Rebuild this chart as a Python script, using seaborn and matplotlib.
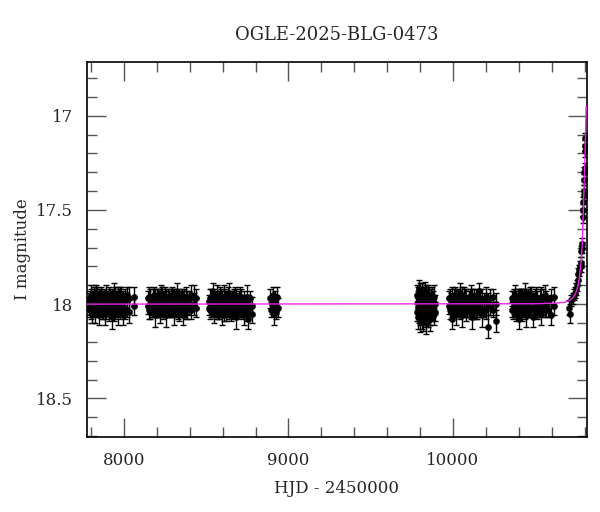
import numpy as np
import pandas as pd
import matplotlib
matplotlib.use("Agg")
import matplotlib.pyplot as plt
from matplotlib.ticker import MultipleLocator
import seaborn as sns

# --- photometry (HJD - 2450000, I mag, error) ---
# two exposures per epoch in the dense seasons (m and m2)
s1_t = [7785, 7791, 7797, 7802, 7808, 7813, 7820, 7826, 7831, 7837,
        7843, 7849, 7854, 7861, 7867, 7872, 7879, 7885, 7890, 7896,
        7903, 7909, 7914, 7921, 7927, 7932, 7939, 7945, 7951, 7958,
        7964, 7970, 7977, 7984, 7991, 7999, 8008, 8018, 8031, 8060]
s1_m = [17.98, 18.03, 17.95, 18.01, 18.05, 17.97, 18.00, 18.04, 17.94, 18.02,
        17.99, 18.06, 17.96, 18.01, 18.03, 17.97, 18.00, 18.05, 17.95, 18.02,
        17.98, 18.04, 17.96, 18.01, 18.07, 17.99, 17.94, 18.03, 18.00, 17.97,
        18.05, 18.02, 17.96, 18.00, 18.06, 17.98, 18.03, 17.95, 18.04, 18.01]
s1_m2 = [18.02, 17.97, 18.03, 17.96, 17.99, 18.03, 17.95, 17.98, 18.02, 17.96,
         18.03, 17.97, 18.02, 17.95, 17.98, 18.04, 17.96, 17.99, 18.03, 17.97,
         18.02, 17.96, 18.03, 17.97, 17.98, 18.02, 18.04, 17.96, 18.03, 18.02,
         17.97, 17.96, 18.03, 17.95, 17.98, 18.02, 17.97, 18.03, 17.97, 17.96]
s1_e = [0.04, 0.04, 0.05, 0.04, 0.05, 0.04, 0.04, 0.06, 0.04, 0.05,
        0.04, 0.05, 0.04, 0.04, 0.05, 0.04, 0.04, 0.06, 0.05, 0.04,
        0.04, 0.05, 0.04, 0.04, 0.06, 0.04, 0.05, 0.05, 0.04, 0.04,
        0.06, 0.04, 0.05, 0.04, 0.05, 0.04, 0.05, 0.04, 0.06, 0.05]

s2_t = [8148, 8155, 8161, 8168, 8174, 8181, 8187, 8194, 8200, 8206,
        8213, 8219, 8226, 8232, 8239, 8245, 8252, 8258, 8265, 8271,
        8278, 8284, 8291, 8297, 8304, 8310, 8317, 8323, 8330, 8337,
        8344, 8351, 8359, 8367, 8376, 8385, 8396, 8408, 8423, 8440]
s2_m = [18.01, 17.96, 18.04, 17.99, 18.02, 17.95, 18.06, 18.00, 17.97, 18.03,
        17.98, 18.05, 17.94, 18.01, 18.04, 17.97, 18.00, 18.06, 17.96, 18.02,
        17.99, 18.03, 17.95, 18.01, 18.05, 17.98, 18.02, 17.94, 18.00, 18.04,
        17.97, 18.01, 18.06, 17.96, 18.03, 17.99, 18.02, 17.95, 18.00, 17.97]
s2_m2 = [17.97, 18.03, 17.96, 18.02, 17.97, 18.03, 17.98, 18.03, 18.02, 17.96,
         18.03, 17.97, 18.02, 17.96, 17.98, 18.03, 17.96, 17.98, 18.03, 17.97,
         18.02, 17.96, 18.03, 17.97, 17.98, 18.03, 17.96, 18.02, 18.04, 17.97,
         18.03, 17.96, 17.98, 18.03, 17.96, 18.02, 17.97, 18.03, 17.96, 18.02]
s2_e = [0.04, 0.05, 0.04, 0.04, 0.05, 0.04, 0.06, 0.04, 0.05, 0.04,
        0.04, 0.05, 0.04, 0.05, 0.04, 0.04, 0.05, 0.06, 0.04, 0.04,
        0.05, 0.04, 0.04, 0.05, 0.06, 0.04, 0.04, 0.05, 0.04, 0.05,
        0.04, 0.04, 0.05, 0.04, 0.05, 0.06, 0.04, 0.05, 0.06, 0.05]

s3_t = [8518, 8524, 8530, 8536, 8541, 8547, 8553, 8559, 8564, 8570,
        8576, 8582, 8588, 8593, 8599, 8605, 8611, 8617, 8622, 8628,
        8634, 8640, 8646, 8652, 8658, 8664, 8670, 8677, 8683, 8690,
        8697, 8704, 8711, 8719, 8727, 8736, 8745, 8755, 8766, 8780]
s3_m = [17.99, 18.03, 17.96, 18.01, 17.94, 18.05, 18.00, 17.97, 18.02, 18.04,
        17.98, 17.95, 18.01, 18.06, 17.99, 18.03, 17.96, 18.00, 18.04, 17.97,
        18.02, 17.95, 18.01, 18.05, 17.98, 18.03, 17.96, 18.00, 18.07, 17.98,
        18.02, 17.96, 18.04, 18.00, 18.06, 17.99, 18.03, 18.08, 18.01, 18.05]
s3_m2 = [18.02, 17.97, 18.03, 17.96, 18.02, 17.97, 18.03, 18.02, 17.96, 17.98,
         18.03, 18.02, 17.96, 17.98, 18.03, 17.96, 18.03, 17.97, 17.98, 18.03,
         17.96, 18.02, 17.97, 17.98, 18.03, 17.97, 18.02, 17.96, 17.98, 18.03,
         17.97, 18.02, 17.96, 18.03, 17.98, 18.02, 17.96, 18.00, 17.97, 18.01]
s3_e = [0.04, 0.05, 0.04, 0.04, 0.05, 0.05, 0.04, 0.04, 0.06, 0.04,
        0.05, 0.04, 0.04, 0.05, 0.04, 0.06, 0.04, 0.04, 0.05, 0.04,
        0.05, 0.06, 0.04, 0.04, 0.05, 0.04, 0.04, 0.05, 0.06, 0.04,
        0.04, 0.05, 0.04, 0.04, 0.05, 0.04, 0.06, 0.05, 0.04, 0.05]

s4_t = [8890, 8895, 8900, 8905, 8910, 8915, 8920, 8926, 8932, 8938]
s4_m = [17.97, 18.03, 18.00, 17.95, 18.05, 18.01, 17.98, 18.04, 17.96, 18.02]
s4_e = [0.05, 0.04, 0.05, 0.04, 0.06, 0.04, 0.05, 0.04, 0.05, 0.05]

s5_t = [9783, 9786, 9789, 9792, 9795, 9798, 9801, 9804, 9807, 9810,
        9813, 9816, 9819, 9822, 9825, 9828, 9831, 9835, 9838, 9842,
        9846, 9850, 9854, 9858, 9862, 9866, 9871, 9876, 9882, 9888]
s5_m = [17.95, 18.02, 18.07, 17.92, 18.04, 17.99, 18.09, 17.96, 18.03, 18.06,
        17.94, 18.01, 18.08, 17.97, 18.05, 18.00, 17.93, 18.10, 18.02, 17.98,
        18.06, 17.95, 18.03, 18.08, 17.99, 18.04, 17.96, 18.02, 18.05, 18.00]
s5_m2 = [18.04, 17.96, 17.99, 18.05, 17.97, 18.06, 17.95, 18.03, 17.98, 17.96,
         18.05, 17.97, 17.98, 18.04, 17.96, 18.07, 18.02, 17.97, 17.95, 18.05,
         17.98, 18.04, 17.96, 18.00, 18.06, 17.97, 18.03, 17.98, 17.96, 18.04]
s5_e = [0.05, 0.05, 0.06, 0.05, 0.05, 0.05, 0.06, 0.05, 0.05, 0.07,
        0.05, 0.05, 0.06, 0.05, 0.05, 0.05, 0.05, 0.06, 0.05, 0.05,
        0.06, 0.05, 0.05, 0.06, 0.05, 0.05, 0.05, 0.05, 0.06, 0.05]

s6_t = [9976, 9982, 9988, 9994, 9999, 10005, 10011, 10017, 10023, 10030,
        10036, 10042, 10049, 10055, 10062, 10068, 10075, 10082, 10088, 10095,
        10102, 10109, 10116, 10124, 10131, 10139, 10147, 10156, 10165, 10175,
        10186, 10198, 10212, 10226, 10245, 10262]
s6_m = [18.01, 17.97, 18.04, 18.08, 17.99, 18.02, 17.95, 18.05, 18.00, 17.97,
        18.03, 17.94, 18.01, 18.06, 17.98, 18.02, 17.96, 18.04, 18.00, 17.98,
        18.03, 17.95, 18.07, 18.00, 17.97, 18.04, 17.99, 17.93, 18.02, 18.06,
        17.98, 18.03, 18.12, 18.01, 17.96, 18.09]
s6_m2 = [17.97, 18.03, 17.98, 17.96, 18.03, 17.97, 18.02, 17.98, 18.03, 18.02,
         17.97, 18.03, 17.98, 17.97, 18.03, 17.96, 18.02, 17.97, 18.03, 18.02,
         17.96, 18.03, 17.98, 18.04, 18.02, 17.96, 18.03, 18.02, 17.97, 17.98,
         18.03, 17.96, 18.00, 17.97, 18.03, 18.00]
s6_e = [0.04, 0.05, 0.04, 0.05, 0.04, 0.05, 0.04, 0.06, 0.04, 0.05,
        0.04, 0.05, 0.04, 0.06, 0.04, 0.05, 0.04, 0.05, 0.04, 0.05,
        0.04, 0.05, 0.06, 0.04, 0.05, 0.04, 0.05, 0.04, 0.05, 0.06,
        0.04, 0.05, 0.06, 0.05, 0.04, 0.06]

s7_t = [10360, 10366, 10372, 10378, 10384, 10390, 10396, 10402, 10408, 10414,
        10420, 10426, 10432, 10438, 10444, 10451, 10457, 10464, 10470, 10477,
        10484, 10491, 10498, 10505, 10513, 10521, 10529, 10538, 10547, 10557,
        10568, 10580, 10595, 10615]
s7_m = [18.03, 17.98, 18.01, 17.95, 18.05, 18.00, 17.97, 18.08, 18.02, 17.96,
        18.04, 17.99, 18.01, 17.94, 18.06, 18.00, 17.97, 18.03, 17.95, 18.02,
        18.07, 17.98, 18.01, 17.96, 18.04, 18.00, 17.97, 18.05, 18.02, 17.95,
        18.03, 17.99, 18.06, 18.01]
s7_m2 = [17.97, 18.03, 17.96, 18.02, 17.97, 18.03, 18.02, 17.97, 17.96, 18.03,
         17.97, 18.02, 17.96, 18.03, 17.98, 18.03, 18.02, 17.97, 18.03, 17.96,
         17.98, 18.03, 17.96, 18.02, 17.97, 18.03, 18.02, 17.97, 17.96, 18.02,
         17.97, 18.03, 17.97, 17.96]
s7_e = [0.04, 0.05, 0.04, 0.05, 0.04, 0.04, 0.05, 0.05, 0.04, 0.04,
        0.05, 0.04, 0.04, 0.05, 0.06, 0.04, 0.05, 0.04, 0.04, 0.05,
        0.05, 0.04, 0.04, 0.05, 0.04, 0.04, 0.05, 0.06, 0.04, 0.05,
        0.04, 0.04, 0.05, 0.05]

rise_t = [10705, 10712, 10720, 10728, 10735, 10741, 10747, 10752, 10758, 10763,
          10768, 10771, 10776, 10777, 10780, 10782, 10783, 10791, 10792, 10793,
          10794, 10795, 10798, 10799, 10800, 10804, 10805, 10806]
rise_m = [18.02, 18.05, 17.98, 17.97, 17.95, 17.94, 17.92, 17.90, 17.87, 17.84,
          17.82, 17.80, 17.80, 17.78, 17.72, 17.70, 17.68, 17.54, 17.50, 17.46,
          17.42, 17.40, 17.34, 17.30, 17.28, 17.19, 17.16, 17.12]
rise_e = [0.04, 0.05, 0.03, 0.03, 0.03, 0.03, 0.03, 0.03, 0.03, 0.03,
          0.03, 0.03, 0.03, 0.03, 0.03, 0.03, 0.03, 0.03, 0.03, 0.03,
          0.03, 0.03, 0.03, 0.03, 0.03, 0.03, 0.03, 0.03]

# model light curve (sampled from the magenta line)
model_t = [7775, 10500, 10620, 10680, 10710, 10730, 10745, 10755, 10763, 10770,
           10776, 10781, 10786, 10790, 10794, 10798, 10802, 10806, 10810]
model_m = [18.0, 17.998, 17.995, 17.99, 17.98, 17.965, 17.945, 17.92, 17.89, 17.85,
           17.80, 17.76, 17.68, 17.58, 17.47, 17.36, 17.24, 17.10, 16.95]

obs = pd.DataFrame({
    "hjd": (s1_t + s1_t + s2_t + s2_t + s3_t + s3_t + s4_t + s5_t + s5_t
            + s6_t + s6_t + s7_t + s7_t + rise_t),
    "mag": (s1_m + s1_m2 + s2_m + s2_m2 + s3_m + s3_m2 + s4_m + s5_m + s5_m2
            + s6_m + s6_m2 + s7_m + s7_m2 + rise_m),
    "err": (s1_e + s1_e + s2_e + s2_e + s3_e + s3_e + s4_e + s5_e + s5_e
            + s6_e + s6_e + s7_e + s7_e + rise_e),
})
model = pd.DataFrame({"hjd": model_t, "mag": model_m})

sns.set_theme(style="ticks")
plt.rcParams["font.family"] = ["DejaVu Serif"]
plt.rcParams["mathtext.fontset"] = "dejavuserif"

fig = plt.figure(figsize=(6, 5.12), dpi=100)
ax = fig.add_axes([0.145, 0.1465, 0.8333, 0.7325])

ax.errorbar(obs["hjd"], obs["mag"], yerr=obs["err"], fmt="none",
            ecolor="black", elinewidth=1.0, capsize=2.5, capthick=1.0, zorder=2)
sns.scatterplot(data=obs, x="hjd", y="mag", ax=ax, color="black", s=20,
                edgecolor="black", linewidth=0.3, zorder=3, legend=False)
sns.lineplot(data=model, x="hjd", y="mag", ax=ax, color="#ee22ee", lw=1.0,
             sort=False, estimator=None, zorder=4)

ax.set_xlim(7775, 10815)
ax.set_ylim(18.705, 16.715)

ax.xaxis.set_major_locator(MultipleLocator(1000))
ax.xaxis.set_minor_locator(MultipleLocator(200))
ax.yaxis.set_major_locator(MultipleLocator(0.5))
ax.yaxis.set_minor_locator(MultipleLocator(0.1))
ax.set_yticks([17, 17.5, 18, 18.5])
ax.set_yticklabels(["17", "17.5", "18", "18.5"])

ax.tick_params(which="both", direction="in", top=True, right=True,
               color="#555555", width=1.0, labelsize=12)
ax.tick_params(which="major", length=14)
ax.tick_params(which="minor", length=7)
ax.tick_params(axis="x", which="major", pad=11)
ax.tick_params(axis="y", which="major", pad=10)
for sp in ax.spines.values():
    sp.set_color("black")
    sp.set_linewidth(1.2)

ax.set_xlabel("HJD - 2450000", fontsize=12, labelpad=8)
ax.set_ylabel("I magnitude", fontsize=12, labelpad=4)
ax.set_title("OGLE-2025-BLG-0473", fontsize=13, pad=16)

fig.savefig("out.png", dpi=100)
